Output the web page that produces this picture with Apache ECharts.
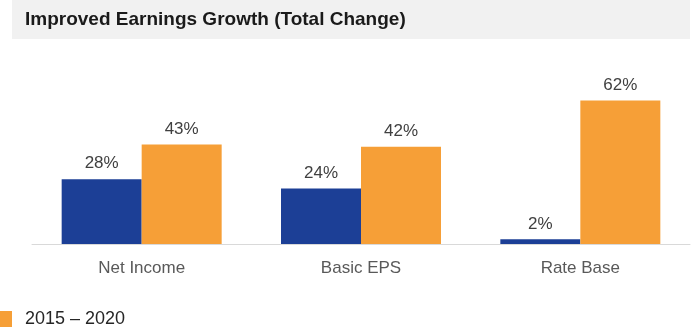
<!DOCTYPE html>
<html>
<head>
<meta charset="utf-8">
<script src="https://cdn.jsdelivr.net/npm/echarts@6/dist/echarts.min.js"></script>
<style>
  html, body { margin: 0; padding: 0; background: #fff; }
  #main { width: 697px; height: 332px; }
</style>
</head>
<body>
<div id="main"></div>
<script>
// data
var categories = ["Net Income", "Basic EPS", "Rate Base"];
var earlierValues = [28, 24, 2];
var periodValues = [43, 42, 62];
var periodName = "2015 – 2020";

var chart = echarts.init(document.getElementById("main"));

var labelStyle = {
  show: true,
  position: "top",
  distance: 7,
  formatter: "{c}%",
  color: "#404040",
  fontSize: 17,
  fontFamily: "Liberation Sans, Arial, sans-serif"
};

var option = {
  animation: false,
  graphic: [
    {
      type: "rect",
      left: 12,
      top: 0,
      shape: { width: 678, height: 39 },
      style: { fill: "#f1f1f1" },
      z: 0
    },
    {
      type: "text",
      left: 25,
      top: 10,
      style: {
        text: "Improved Earnings Growth (Total Change)",
        fill: "#1a1a1a",
        font: "bold 19px 'Liberation Sans', Arial, sans-serif"
      },
      z: 1
    }
  ],
  legend: {
    data: [periodName],
    left: 0,
    top: 310,
    padding: 0,
    icon: "rect",
    itemWidth: 12,
    itemHeight: 16,
    textStyle: {
      color: "#262626",
      fontSize: 18,
      fontFamily: "Liberation Sans, Arial, sans-serif",
      padding: [0, 0, 0, 8]
    }
  },
  grid: {
    left: 32,
    right: 7,
    top: 82,
    bottom: 88,
    containLabel: false
  },
  xAxis: {
    type: "category",
    data: categories,
    axisLine: { lineStyle: { color: "#d9d9d9", width: 1 } },
    axisTick: { show: false },
    axisLabel: {
      color: "#595959",
      fontSize: 17,
      margin: 16,
      fontFamily: "Liberation Sans, Arial, sans-serif"
    }
  },
  yAxis: {
    type: "value",
    min: 0,
    max: 70,
    show: false
  },
  series: [
    {
      name: "2010 – 2015",
      type: "bar",
      data: earlierValues,
      barWidth: 80,
      barGap: "0%",
      itemStyle: { color: "#1c3f96" },
      label: labelStyle
    },
    {
      name: periodName,
      type: "bar",
      data: periodValues,
      barWidth: 80,
      barGap: "0%",
      itemStyle: { color: "#f69f37" },
      label: labelStyle
    }
  ]
};

chart.setOption(option);
</script>
</body>
</html>
